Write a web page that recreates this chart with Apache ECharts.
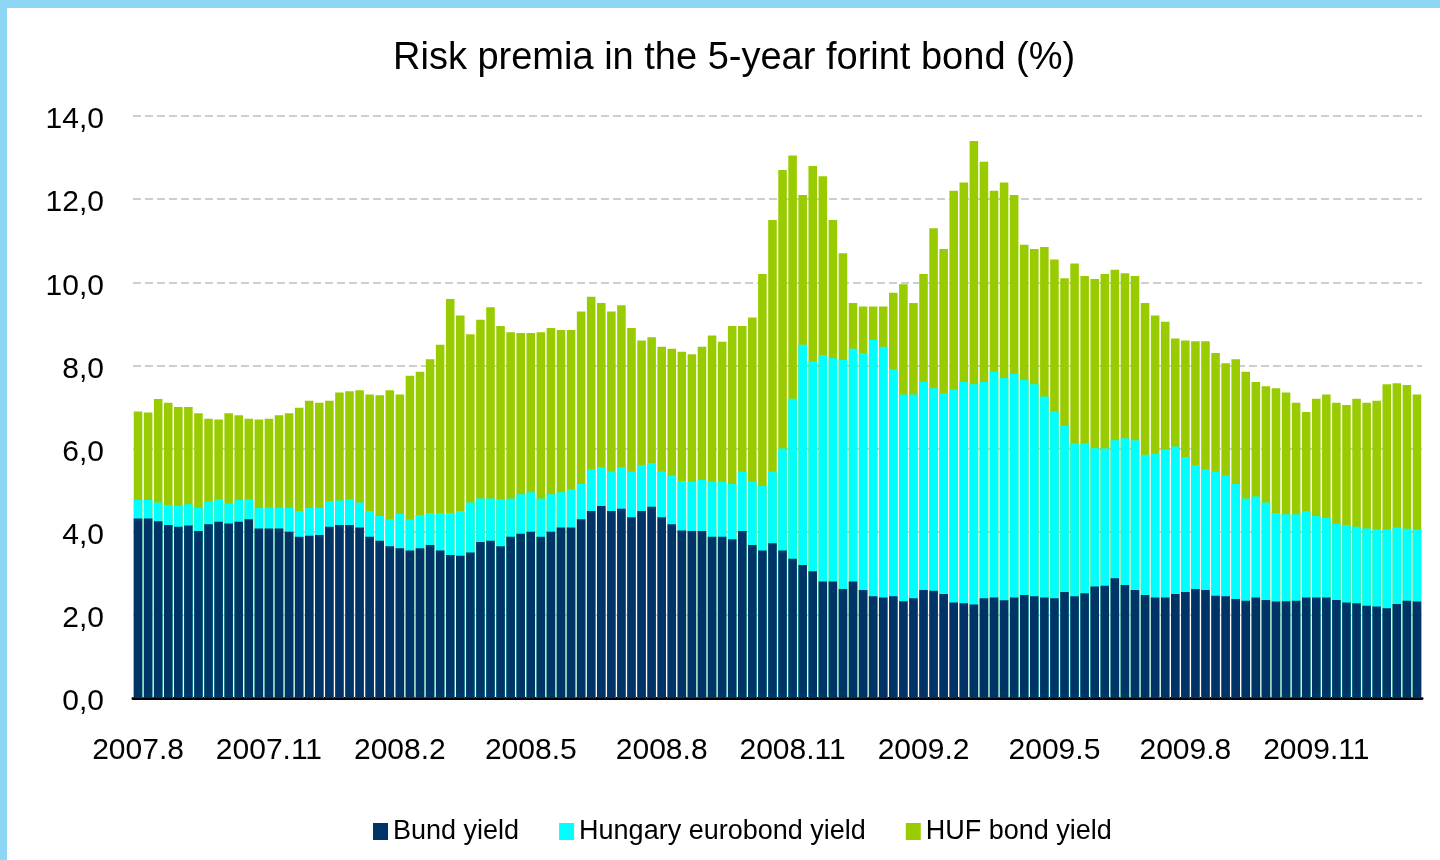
<!DOCTYPE html>
<html lang="en">
<head>
<meta charset="utf-8">
<title>Risk premia in the 5-year forint bond</title>
<script src="https://cdn.jsdelivr.net/npm/echarts@6.0.0/dist/echarts.min.js"></script>
<style>
* { margin: 0; padding: 0; }
body { width: 1440px; height: 860px; overflow: hidden; background: #fff; }
#chart-container { position: absolute; left: 0; top: 0; width: 1440px; height: 860px; }
.frame-top { position: absolute; left: 0; top: 0; width: 1440px; height: 8px; background: #8ed6f5; }
.frame-left { position: absolute; left: 0; top: 0; width: 7px; height: 860px; background: #8ed6f5; }
</style>
</head>
<body>
<div id="chart-container"></div>
<div class="frame-top"></div>
<div class="frame-left"></div>
<script>
// weekly readings, first week starting 2007-08-01
var tickLabels = ['2007.8', '2007.11', '2008.2', '2008.5', '2008.8', '2008.11', '2009.2', '2009.5', '2009.8', '2009.11'];
var tickWeeks = [0, 13, 26, 39, 52, 65, 78, 91, 104, 117];

var bundYield = [
  4.32, 4.32, 4.25, 4.16, 4.12, 4.15, 4.02, 4.18, 4.24, 4.2, 4.24, 4.3, 4.08, 4.08, 4.08, 4.0, 3.88, 3.9, 3.92, 4.12, 4.16, 4.16, 4.1, 3.88, 3.78, 3.65,
  3.6, 3.55, 3.6, 3.68, 3.55, 3.44, 3.42, 3.5, 3.75, 3.78, 3.65, 3.88, 3.95, 4.0, 3.88, 4.0, 4.1, 4.1, 4.3, 4.5, 4.62, 4.5, 4.55, 4.35, 4.5,
  4.6, 4.35, 4.18, 4.03, 4.02, 4.02, 3.88, 3.88, 3.82, 4.02, 3.68, 3.55, 3.72, 3.55, 3.35, 3.2, 3.05, 2.8, 2.8, 2.62, 2.8, 2.6, 2.45, 2.42, 2.45, 2.33,
  2.4, 2.6, 2.58, 2.5, 2.3, 2.28, 2.25, 2.4, 2.42, 2.35, 2.42, 2.48, 2.45, 2.42, 2.4, 2.55, 2.45, 2.52, 2.68, 2.7, 2.88, 2.72, 2.6, 2.48, 2.42, 2.42,
  2.5, 2.55, 2.62, 2.6, 2.46, 2.45, 2.38, 2.34, 2.42, 2.36, 2.32, 2.33, 2.34, 2.42, 2.42, 2.42, 2.36, 2.3, 2.28, 2.22, 2.2, 2.16, 2.26, 2.34, 2.32
];

var eurobondYield = [
  4.76, 4.76, 4.7, 4.64, 4.62, 4.66, 4.57, 4.72, 4.78, 4.68, 4.76, 4.78, 4.57, 4.58, 4.58, 4.57, 4.5, 4.57, 4.57, 4.74, 4.75, 4.78, 4.7, 4.5, 4.38, 4.3,
  4.43, 4.3, 4.4, 4.45, 4.45, 4.45, 4.5, 4.7, 4.8, 4.8, 4.78, 4.8, 4.9, 4.95, 4.8, 4.9, 4.95, 5.02, 5.15, 5.5, 5.55, 5.45, 5.55, 5.45, 5.6,
  5.65, 5.45, 5.35, 5.22, 5.2, 5.25, 5.2, 5.2, 5.15, 5.45, 5.2, 5.1, 5.45, 6.0, 7.2, 8.5, 8.1, 8.25, 8.17, 8.13, 8.4, 8.3, 8.61, 8.45, 7.9, 7.3,
  7.3, 7.6, 7.45, 7.33, 7.42, 7.6, 7.55, 7.6, 7.85, 7.7, 7.8, 7.65, 7.55, 7.25, 6.9, 6.55, 6.13, 6.13, 6.01, 6.0, 6.2, 6.25, 6.2, 5.85, 5.88, 5.98,
  6.05, 5.8, 5.6, 5.5, 5.45, 5.35, 5.15, 4.8, 4.85, 4.7, 4.45, 4.42, 4.42, 4.5, 4.38, 4.33, 4.2, 4.16, 4.12, 4.08, 4.06, 4.06, 4.1, 4.07, 4.05
];

var hufYield = [
  6.89, 6.87, 7.19, 7.1, 7.0, 7.0, 6.85, 6.72, 6.7, 6.85, 6.8, 6.72, 6.7, 6.72, 6.8, 6.85, 6.98, 7.15, 7.1, 7.15, 7.35, 7.38, 7.4, 7.3, 7.28, 7.4,
  7.3, 7.75, 7.85, 8.15, 8.5, 9.6, 9.2, 8.75, 9.1, 9.4, 8.95, 8.8, 8.78, 8.78, 8.8, 8.9, 8.85, 8.85, 9.3, 9.65, 9.5, 9.3, 9.45, 8.9, 8.6,
  8.68, 8.45, 8.4, 8.33, 8.27, 8.45, 8.72, 8.57, 8.95, 8.95, 9.15, 10.2, 11.5, 12.7, 13.05, 12.1, 12.8, 12.55, 11.5, 10.7, 9.5, 9.42, 9.42, 9.42, 9.75, 9.95,
  9.5, 10.2, 11.3, 10.8, 12.2, 12.4, 13.4, 12.9, 12.2, 12.4, 12.1, 10.9, 10.8, 10.85, 10.55, 10.1, 10.45, 10.15, 10.08, 10.2, 10.3, 10.22, 10.15, 9.5, 9.2, 9.05,
  8.65, 8.6, 8.58, 8.58, 8.3, 8.05, 8.15, 7.85, 7.6, 7.5, 7.45, 7.35, 7.1, 6.88, 7.2, 7.3, 7.1, 7.05, 7.2, 7.1, 7.15, 7.55, 7.57, 7.53, 7.3
];

var weeks = [];
for (var i = 0; i < hufYield.length; i++) {
  var d = new Date(Date.UTC(2007, 7, 1 + i * 7));
  weeks.push(d.toISOString().slice(0, 10));
}

var myChart = echarts.init(document.getElementById('chart-container'));
var font = 'Liberation Sans, Arial, sans-serif';

myChart.setOption({
  animation: false,
  backgroundColor: '#fff',
  title: {
    text: 'Risk premia in the 5-year forint bond (%)',
    left: 393,
    top: 40,
    padding: 0,
    textStyle: { fontFamily: font, fontSize: 38, fontWeight: 'normal', color: '#000' }
  },
  legend: {
    data: ['Bund yield', 'Hungary eurobond yield', 'HUF bond yield'],
    left: 368,
    top: 813,
    icon: 'rect',
    itemWidth: 15,
    itemHeight: 17,
    itemGap: 40,
    textStyle: { fontFamily: font, fontSize: 27, color: '#000' }
  },
  grid: { left: 133, right: 18, top: 116, bottom: 162, containLabel: false },
  xAxis: {
    type: 'category',
    data: weeks,
    axisLine: { lineStyle: { color: '#000', width: 3 } },
    axisTick: { show: false },
    splitLine: { show: false },
    axisLabel: {
      interval: function (idx) { return tickWeeks.indexOf(idx) >= 0; },
      formatter: function (val, idx) { return tickLabels[tickWeeks.indexOf(idx)]; },
      fontFamily: font,
      fontSize: 30,
      color: '#000',
      margin: 38
    }
  },
  yAxis: {
    type: 'value',
    min: 0,
    max: 14,
    interval: 2,
    axisLine: { show: false },
    axisTick: { show: false },
    axisLabel: {
      formatter: function (v) { return '{n|' + v.toFixed(1).replace('.', ',') + '}'; },
      margin: 29,
      rich: {
        n: { fontFamily: font, fontSize: 30, color: '#000', padding: [8, 0, 0, 0] }
      }
    },
    splitLine: { lineStyle: { color: '#bfbfbf', type: [8, 4], width: 1.5 } }
  },
  series: [
    {
      name: 'HUF bond yield', type: 'bar', data: hufYield,
      itemStyle: { color: '#99cc00' }, barGap: '-100%', barCategoryGap: '15%'
    },
    {
      name: 'Hungary eurobond yield', type: 'bar', data: eurobondYield,
      itemStyle: { color: '#00ffff' }, barGap: '-100%', barCategoryGap: '15%'
    },
    {
      name: 'Bund yield', type: 'bar', data: bundYield,
      itemStyle: { color: '#003366' }, barGap: '-100%', barCategoryGap: '15%'
    }
  ]
});
</script>
</body>
</html>
